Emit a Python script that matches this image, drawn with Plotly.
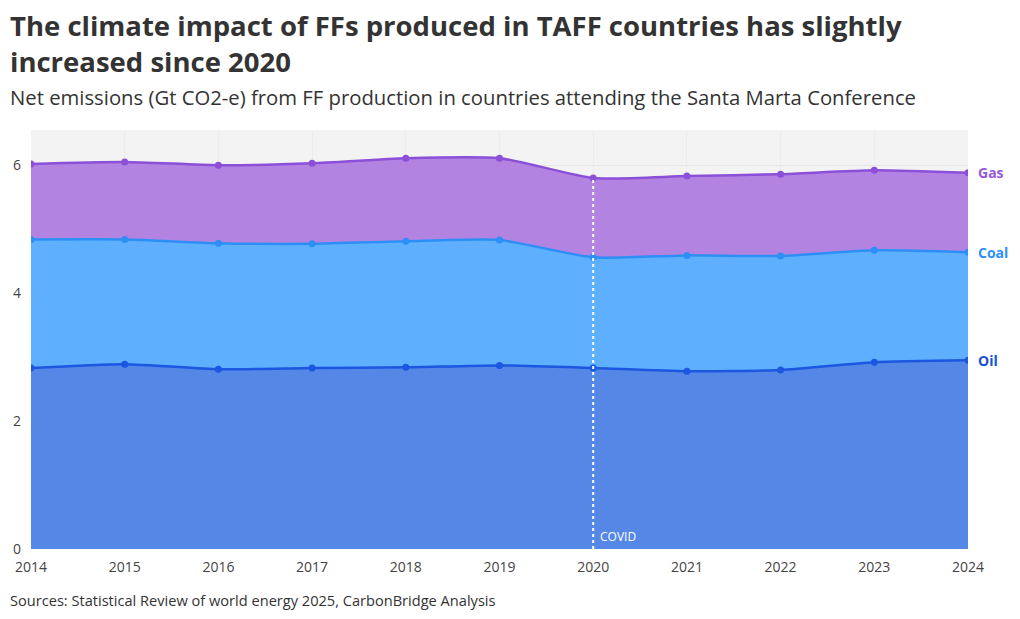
import plotly.graph_objects as go

years = [2014, 2015, 2016, 2017, 2018, 2019, 2020, 2021, 2022, 2023, 2024]
oil = [2.83, 2.89, 2.81, 2.83, 2.84, 2.87, 2.83, 2.78, 2.80, 2.92, 2.95]
coal = [2.01, 1.95, 1.97, 1.94, 1.97, 1.96, 1.73, 1.81, 1.78, 1.75, 1.69]
gas = [1.18, 1.21, 1.22, 1.26, 1.30, 1.28, 1.24, 1.24, 1.28, 1.25, 1.24]
y_ticks = [0, 2, 4, 6]
covid_year = 2020

series = [
    ("Oil", oil, "#5587e6", "#1b57e0", "#1a4fd0"),
    ("Coal", coal, "#5eb0ff", "#2d8ff5", "#2e90fa"),
    ("Gas", gas, "#b383e2", "#8b4fd8", "#9657db"),
]

FONT = "Open Sans"
fig = go.Figure()
cum = [0.0] * len(years)
for name, vals, fill, line, lab in series:
    cum = [c + v for c, v in zip(cum, vals)]
    fig.add_trace(go.Scatter(
        x=years, y=vals, name=name, stackgroup="one", mode="lines+markers",
        line=dict(color=line, width=2.5, shape="spline", smoothing=0.6),
        fillcolor=fill, marker=dict(size=7, color=line),
        showlegend=False, hoverinfo="x+y+name"))
    fig.add_annotation(x=years[-1], y=cum[-1], text=f"<b>{name}</b>", showarrow=False,
                       xanchor="left", yanchor="middle", xshift=8,
                       font=dict(family=FONT, size=14, color=lab))

top_2020 = cum[years.index(covid_year)]
fig.add_shape(type="line", x0=covid_year, x1=covid_year, y0=0, y1=top_2020,
              line=dict(color="white", width=2, dash="dot"), layer="above")
fig.add_annotation(x=covid_year, y=0, text="COVID", showarrow=False, xanchor="left",
                   yanchor="bottom", xshift=5, yshift=2,
                   font=dict(family=FONT, size=12, color="white"))

fig.update_layout(
    width=1020, height=619, margin=dict(l=31, r=52, t=130, b=70),
    paper_bgcolor="white", plot_bgcolor="#f3f3f3",
    font=dict(family=FONT, color="#444"),
    xaxis=dict(range=[2014, 2024], tickvals=years, showgrid=True, gridcolor="#ececec",
               zeroline=False, showline=False, ticklabelstandoff=8,
               tickfont=dict(size=14, color="#444")),
    yaxis=dict(range=[0, 6.55], tickvals=y_ticks, showgrid=True, gridcolor="#e6e6e6",
               zeroline=False, ticklabelstandoff=9, tickfont=dict(size=14, color="#444")),
)
X0 = -23 / 937
fig.add_annotation(xref="paper", yref="paper", x=X0, y=1 + 125/419, xanchor="left",
                   yanchor="top", showarrow=False, align="left",
                   text="<b>The climate impact of FFs produced in TAFF countries has slightly<br>increased since 2020</b>",
                   font=dict(family=FONT, size=27.5, color="#333"))
fig.add_annotation(xref="paper", yref="paper", x=X0, y=1 + 49/419, xanchor="left",
                   yanchor="top", showarrow=False,
                   text="Net emissions (Gt CO2-e) from FF production in countries attending the Santa Marta Conference",
                   font=dict(family=FONT, size=20.3, color="#333"))
fig.add_annotation(xref="paper", yref="paper", x=X0, y=-39/419, xanchor="left",
                   yanchor="top", showarrow=False,
                   text="Sources: Statistical Review of world energy 2025, CarbonBridge Analysis",
                   font=dict(family=FONT, size=14.6, color="#333"))

fig.write_html("out.html")
